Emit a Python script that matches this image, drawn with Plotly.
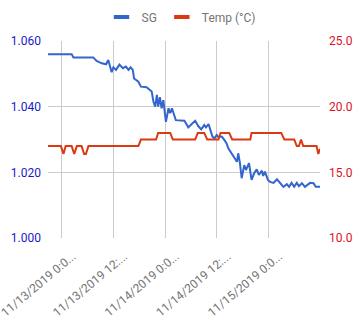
import pandas as pd
import plotly.graph_objects as go

# Readings: hours elapsed since 11/13/2019 00:00
sg_hours = [-3.2, 2.3, 2.7, 7.3, 8.1, 9.3, 10.3, 10.8, 11.6, 12.0, 12.6, 13.4, 14.2, 14.9,
            15.5, 16.0, 16.5, 16.8, 17.8, 18.4, 19.7, 20.4, 20.9, 21.3, 21.7, 22.1, 22.4,
            22.8, 23.2, 23.6, 24.2, 24.8, 25.2, 25.6, 25.9, 26.5, 28.5, 29.4, 30.2, 31.0,
            31.7, 32.4, 33.1, 33.5, 34.1, 35.0, 35.5, 36.0, 36.4, 37.2, 37.8, 38.3, 38.7,
            39.5, 40.1, 40.7, 41.0, 41.4, 41.8, 42.4, 42.8, 43.2, 43.5, 44.1, 44.7, 45.3,
            45.8, 46.5, 46.8, 47.2, 47.9, 48.4, 49.2, 50.0, 50.7, 51.5, 52.3, 52.8, 53.4,
            54.0, 54.6, 55.1, 55.8, 56.5, 57.7, 58.5, 59.0, 60.0]
sg_values = [1.0560, 1.0560, 1.0550, 1.0550, 1.0539, 1.0532, 1.0529, 1.0542, 1.0505, 1.0520,
             1.0512, 1.0528, 1.0517, 1.0522, 1.0512, 1.0520, 1.0512, 1.0486, 1.0476, 1.0461,
             1.0459, 1.0451, 1.0446, 1.0415, 1.0400, 1.0436, 1.0400, 1.0429, 1.0395, 1.0420,
             1.0354, 1.0395, 1.0380, 1.0395, 1.0382, 1.0359, 1.0357, 1.0337, 1.0347, 1.0357,
             1.0341, 1.0331, 1.0344, 1.0337, 1.0347, 1.0309, 1.0304, 1.0314, 1.0307, 1.0309,
             1.0298, 1.0288, 1.0273, 1.0258, 1.0243, 1.0232, 1.0258, 1.0228, 1.0182, 1.0222,
             1.0207, 1.0222, 1.0228, 1.0177, 1.0197, 1.0209, 1.0192, 1.0205, 1.0189, 1.0202,
             1.0177, 1.0171, 1.0168, 1.0179, 1.0168, 1.0156, 1.0164, 1.0156, 1.0168, 1.0156,
             1.0168, 1.0158, 1.0167, 1.0156, 1.0168, 1.0167, 1.0156, 1.0156]

temp_hours = [-3.2, -0.2, 0.4, 0.9, 2.3, 2.9, 3.5, 4.6, 5.2, 5.6, 6.2, 17.8, 18.4, 21.9,
              22.4, 25.2, 25.8, 31.0, 31.6, 33.1, 33.8, 36.4, 36.9, 38.9, 39.6, 43.8, 44.1,
              51.0, 51.7, 54.0, 54.6, 55.1, 55.6, 56.1, 59.2, 59.6, 60.0]
temp_values = [17.0, 17.0, 16.4, 17.0, 17.0, 16.4, 17.0, 17.0, 16.4, 16.4, 17.0, 17.0, 17.5,
               17.5, 18.0, 18.0, 17.5, 17.5, 18.0, 18.0, 17.5, 17.5, 18.0, 18.0, 17.5, 17.5,
               18.0, 18.0, 17.5, 17.5, 17.0, 17.0, 17.5, 17.0, 17.0, 16.4, 16.8]

tick_hours = [0, 12, 24, 36, 48]
tick_labels = ["11/13/2019 0:0...", "11/13/2019 12:...", "11/14/2019 0:0...",
               "11/14/2019 12:...", "11/15/2019 0:0..."]

sg_ticks = [1.000, 1.020, 1.040, 1.060]
temp_ticks = [10.0, 15.0, 20.0, 25.0]

SG_COLOR = "#3366CC"
TEMP_COLOR = "#DC3912"
FONT = "Roboto, Arial, sans-serif"

origin = pd.Timestamp("2019-11-13 00:00")


def to_time(hours):
    stamps = origin + pd.to_timedelta(hours, unit="h")
    return [t.strftime("%Y-%m-%d %H:%M:%S") for t in stamps]


fig = go.Figure()

# compact legend swatches
for name, color in [("SG", SG_COLOR), ("Temp (°C)", TEMP_COLOR)]:
    fig.add_trace(go.Scatter(
        x=[None], y=[None], mode="markers", name=name,
        marker=dict(symbol="line-ew-open", size=11, color=color,
                    line=dict(width=4, color=color)),
    ))

fig.add_trace(go.Scatter(
    x=to_time(temp_hours), y=temp_values, mode="lines", name="Temp (°C)",
    line=dict(color=TEMP_COLOR, width=2), yaxis="y2", showlegend=False,
))
fig.add_trace(go.Scatter(
    x=to_time(sg_hours), y=sg_values, mode="lines", name="SG",
    line=dict(color=SG_COLOR, width=2), showlegend=False,
))

x_range = to_time([min(sg_hours), max(sg_hours)])

fig.update_layout(
    width=362, height=323,
    margin=dict(l=48, r=42, t=41, b=85, pad=0),
    paper_bgcolor="white", plot_bgcolor="white",
    font=dict(family=FONT, size=12, color="#757575"),
    legend=dict(
        orientation="h", xref="container", yref="container",
        x=0.5, xanchor="center", y=1 - 17 / 323, yanchor="middle",
        font=dict(size=12, color="#757575"), itemwidth=30,
        bgcolor="rgba(0,0,0,0)", traceorder="normal",
    ),
    xaxis=dict(
        type="date", range=x_range, autorange=False, automargin=False,
        tickmode="array", tickvals=to_time(tick_hours), ticktext=tick_labels,
        tickangle=-40, tickfont=dict(size=12, color="#757575"),
        ticklabeloverflow="allow", ticklabelshift=11, ticklabelstandoff=8,
        showgrid=True, gridcolor="#cccccc", gridwidth=1,
        zeroline=False, showline=False, ticks="",
    ),
    yaxis=dict(
        range=[1.000, 1.060], autorange=False, automargin=False,
        tickvals=sg_ticks, tickformat=".3f",
        tickfont=dict(size=12, color="#1a1acc"),
        showgrid=True, gridcolor="#cccccc", gridwidth=1,
        zeroline=False, showline=False, ticks="", ticklabelstandoff=6,
    ),
    yaxis2=dict(
        range=[10, 25], autorange=False, automargin=False,
        tickvals=temp_ticks, tickformat=".1f",
        tickfont=dict(size=12, color="#dd1122"),
        overlaying="y", side="right", showgrid=False,
        zeroline=False, showline=False, ticks="", ticklabelstandoff=8,
    ),
)

fig.write_html("out.html")
